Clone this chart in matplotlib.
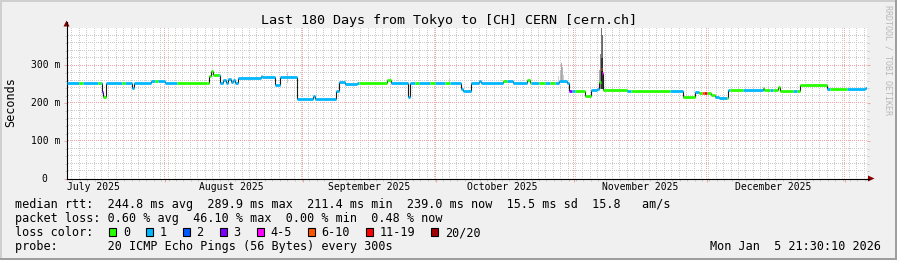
import numpy as np
import pandas as pd
import matplotlib
matplotlib.use("Agg")
import matplotlib.pyplot as plt
from matplotlib.collections import LineCollection
from matplotlib.lines import Line2D
from matplotlib.patches import Polygon, Rectangle

W, H = 897, 260
START = pd.Timestamp("2025-07-09 21:30:10")
SPAN = 180.0  # days shown

# median rtt as a step series: day offset from START where a level begins, level in ms
step_day = [0.0, 7.9, 8.2, 8.8, 14.7, 15.1, 19.1, 22.1, 32.0, 32.4,
            32.9, 34.5, 35.2, 35.8, 36.3, 36.9, 37.5, 38.0, 38.6, 43.7,
            43.9, 46.8, 48.0, 51.9, 55.4, 55.8, 60.6, 61.4, 62.6, 65.3,
            72.2, 73.1, 76.8, 77.3, 88.8, 89.2, 91.1, 92.9, 93.2, 98.1,
            100.4, 103.7, 104.3, 110.9, 112.5, 113.1, 116.6, 117.9, 119.3, 119.9,
            120.2, 120.5, 120.8, 126.0, 138.7, 141.3, 142.4, 145.1, 145.8, 146.7,
            148.8, 156.6, 156.9, 160.0, 160.6, 165.0, 171.0, 179.6]
step_ms = [254, 230, 216, 254, 239, 254, 257, 254, 271, 284,
           275, 253, 260, 254, 264, 256, 262, 253, 267, 271,
           268, 247, 270, 211, 219, 211, 232, 256, 251, 254,
           260, 254, 216, 254, 238, 231, 252, 258, 253, 258,
           254, 260, 253, 257, 253, 233, 218, 234, 237, 256,
           290, 279, 234, 233, 216, 230, 227, 222, 216, 213,
           234, 241, 234, 243, 232, 247, 236, 239]

# loss colour runs (everything else is class 1 = one lost ping)
loss_from = [2.9, 7.0, 7.9, 8.2, 12.4, 19.8, 24.8, 31.7, 65.9, 72.2,
             78.3, 81.7, 85.1, 98.1, 103.7, 106.4, 108.7, 113.1, 114.4, 119.9,
             120.2, 120.5, 120.8, 126.9, 138.7, 142.4, 142.9, 143.5, 144.0, 148.5,
             149.2, 156.6, 158.9, 164.3, 171.7]
loss_to = [3.6, 7.7, 8.2, 8.8, 13.1, 20.5, 31.5, 34.4, 72.0, 73.1,
           79.4, 82.8, 86.2, 99.0, 104.4, 107.6, 110.0, 113.8, 117.9, 120.2,
           120.5, 120.8, 126.0, 135.7, 141.3, 142.9, 143.5, 144.0, 145.8, 148.9,
           152.1, 158.2, 163.4, 171.0, 175.5]
loss_cls = [0, 0, 3, 0, 0, 0, 0, 0, 0, 0,
            0, 0, 0, 0, 0, 0, 0, 3, 0, 0,
            5, 4, 0, 0, 0, 0, 5, 6, 0, 0,
            0, 0, 0, 0, 0]

# smoke (spread of the 20 pings) where it shows above the median
smoke_day = [19.1, 49.7, 86.2, 110.8, 111.05, 111.3, 111.55, 111.8,
             119.85, 120.1, 120.35, 120.6, 120.35, 120.6]
smoke_bot = [252, 252, 252, 253, 253, 253, 253, 253,
             236, 236, 236, 236, 236, 236]
smoke_top = [259, 283, 266, 272, 288, 305, 296, 275,
             287, 330, 398, 380, 318, 320]
smoke_shade = ['#dddddd', '#cccccc', '#cccccc', '#cfcfcf', '#bdbdbd', '#aaaaaa', '#b5b5b5', '#cccccc',
               '#aaaaaa', '#888888', '#777777', '#6a6a6a', '#333333', '#333333']

loss_colors = ['#26ff00', '#00b8ff', '#0059ff', '#7e00ff', '#ff00ff', '#ff5500', '#ff0000', '#a10000']
loss_labels = ['0', '1', '2', '3', '4-5', '6-10', '11-19', '20/20']
loss_box_x = [109, 146, 182.7, 219.5, 256.8, 307.5, 365.5, 431]

yticks_ms = [0, 100, 200, 300]
ytick_text = ['0', '100 m', '200 m', '300 m']
months = ['2025-07', '2025-08', '2025-09', '2025-10', '2025-11', '2025-12', '2026-01']
month_text = ['July 2025', 'August 2025', 'September 2025', 'October 2025',
              'November 2025', 'December 2025']

legend_rows = [
    "median rtt:  244.8 ms avg  289.9 ms max  211.4 ms min  239.0 ms now  15.5 ms sd  15.8   am/s",
    "packet loss: 0.60 % avg  46.10 % max  0.00 % min  0.48 % now",
    "loss color:",
    "probe:       20 ICMP Echo Pings (56 Bytes) every 300s",
]
stamp = "Mon Jan  5 21:30:10 2026"
title = "Last 180 Days from Tokyo to [CH] CERN [cern.ch]"

MONO = 'DejaVu Sans Mono'
BACK = '#f0f0f0'
MINOR = '#cccccc'
MAJOR = '#f4a4a4'
LEGEND_FS = 8.5

# plot canvas in pixels (left edge, bottom edge counted from the bottom)
X0, YB, PW, PH = 66.5, 81.5, 800, 151


def fx(x):
    return x / W


def fy(y):
    return 1 - y / H


def day_of(ts):
    return (pd.Timestamp(ts) - START) / pd.Timedelta(days=1)


def snap_x(d):
    # put a 1px line on a pixel centre
    px = np.floor(X0 + np.asarray(d) * PW / SPAN) + 0.5
    return (px - X0) * SPAN / PW


def snap_y(v):
    px = np.floor(YB + np.asarray(v) * PH / 400) + 0.5
    return (px - YB) * 400 / PH


fig = plt.figure(figsize=(W / 100, H / 100), dpi=100, facecolor=BACK)
ax = fig.add_axes([X0 / W, YB / H, PW / W, PH / H])
ax.set_facecolor('white')
ax.set_xlim(0, SPAN)
ax.set_ylim(0, 400)

# grid: 1px dots, the half-pixel offset keeps each dot on a whole pixel
month_start = [day_of(m + '-01') for m in months]
month_start = [d for d in month_start if 0 < d < SPAN]
minor_x = np.arange(1.19, SPAN, 40 / 24)
minor_y = np.arange(20, 400, 20)
dots = [(0.5, (1, 1))]
grid_kw = dict(linewidth=0.72, linestyles=dots, snap=False)
ax.vlines(snap_x(minor_x), 0, 400, colors=MINOR, zorder=1, **grid_kw)
ax.hlines(snap_y(minor_y), 0, SPAN, colors=MINOR, zorder=1, **grid_kw)
ax.vlines(snap_x(month_start), 0, 400, colors=MAJOR, zorder=1.5, **grid_kw)
ax.hlines(snap_y(yticks_ms[1:]), 0, SPAN, colors=MAJOR, zorder=1.5, **grid_kw)

# smoke
ax.bar(smoke_day, np.subtract(smoke_top, smoke_bot), bottom=smoke_bot, width=0.24,
       color=smoke_shade, linewidth=0, zorder=2)

# steps between levels
ax.vlines(step_day[1:], step_ms[:-1], step_ms[1:], colors='#1a1a1a', linewidth=0.8, zorder=3)

# median line coloured by loss
edges = sorted(set(step_day + loss_from + loss_to + [SPAN]))
segs, cols = [], []
for a, b in zip(edges[:-1], edges[1:]):
    i = np.searchsorted(step_day, a, side='right') - 1
    cls = 1
    for lf, lt, lc in zip(loss_from, loss_to, loss_cls):
        if lf <= a < lt:
            cls = lc
    segs.append([(a, step_ms[i]), (b, step_ms[i])])
    cols.append(loss_colors[cls])
ax.add_collection(LineCollection(segs, colors=cols, linewidths=2.0, capstyle='butt', zorder=4))

# axes and ticks
for s in ['top', 'right']:
    ax.spines[s].set_visible(False)
for s in ['left', 'bottom']:
    ax.spines[s].set_color('black')
    ax.spines[s].set_linewidth(0.8)
ax.set_xticks(snap_x(month_start))
ax.set_xticks(snap_x(minor_x), minor=True)
ax.set_yticks(snap_y(yticks_ms))
ax.set_yticks(snap_y(minor_y), minor=True)
ax.tick_params(which='major', direction='out', length=2.2, width=0.72, color=MAJOR,
               right=True, labelbottom=False, labelleft=False)
ax.tick_params(which='minor', direction='out', length=1.5, width=0.72, color='#c8c8c8',
               right=True)

# axis arrows
fig.add_artist(Line2D([fx(66.5), fx(66.5)], [fy(27), fy(22)], color='black', lw=0.8))
fig.add_artist(Line2D([fx(866), fx(869)], [fy(178.5), fy(178.5)], color='black', lw=0.8))
fig.add_artist(Polygon([(fx(63.5), fy(26.5)), (fx(69.5), fy(26.5)), (fx(66.5), fy(20.5))],
                       closed=True, color='#8b0000', lw=0))
fig.add_artist(Polygon([(fx(868), fy(175.5)), (fx(868), fy(181.5)), (fx(874.5), fy(178.5))],
                       closed=True, color='#8b0000', lw=0))

# tick labels
for v, t in zip(yticks_ms, ytick_text):
    ypx = 178 - v * PH / 400
    xr = 60 if v else 47.5
    fig.text(fx(xr), fy(ypx + 3.5), t, ha='right', va='baseline', family=MONO, fontsize=7.0)
for m, t in zip(months, month_text):
    d = day_of(m + '-16')
    xpx = X0 + d / SPAN * PW
    fig.text(fx(xpx), fy(190.5), t, ha='center', va='baseline', family=MONO, fontsize=7.0)

fig.text(fx(11), fy(102.5), 'Seconds', rotation=90, ha='center', va='center',
         family=MONO, fontsize=LEGEND_FS)
fig.text(fx(448.5), fy(24), title, ha='center', va='baseline', family=MONO, fontsize=9.6)
fig.text(fx(887.5), fy(60), 'RRDTOOL / TOBI OETIKER', rotation=270, ha='center', va='center',
         family=MONO, fontsize=6, color='#b8b8b8')

# legend
for k, row in enumerate(legend_rows):
    fig.text(fx(15.3), fy(208 + 14 * k), row, ha='left', va='baseline', family=MONO,
             fontsize=LEGEND_FS)
fig.text(fx(880.5), fy(250), stamp, ha='right', va='baseline', family=MONO, fontsize=LEGEND_FS)
for bx, c, lab in zip(loss_box_x, loss_colors, loss_labels):
    fig.add_artist(Rectangle((fx(bx), fy(236)), 7 / W, 8 / H, transform=fig.transFigure,
                             facecolor=c, edgecolor='black', lw=0.8))
    fig.text(fx(bx + 13.8), fy(236), lab, ha='left', va='baseline', family=MONO,
             fontsize=LEGEND_FS)

# frame shading
fig.add_artist(Line2D([0, 1], [fy(0.7), fy(0.7)], color='#cfcfcf', lw=1.44))
fig.add_artist(Line2D([fx(0.7), fx(0.7)], [0, 1], color='#cfcfcf', lw=1.44))
fig.add_artist(Line2D([0, 1], [fy(259.3), fy(259.3)], color='#9e9e9e', lw=1.44))
fig.add_artist(Line2D([fx(896.3), fx(896.3)], [0, 1], color='#9e9e9e', lw=1.44))

fig.savefig('out.png', dpi=100, facecolor=BACK)
